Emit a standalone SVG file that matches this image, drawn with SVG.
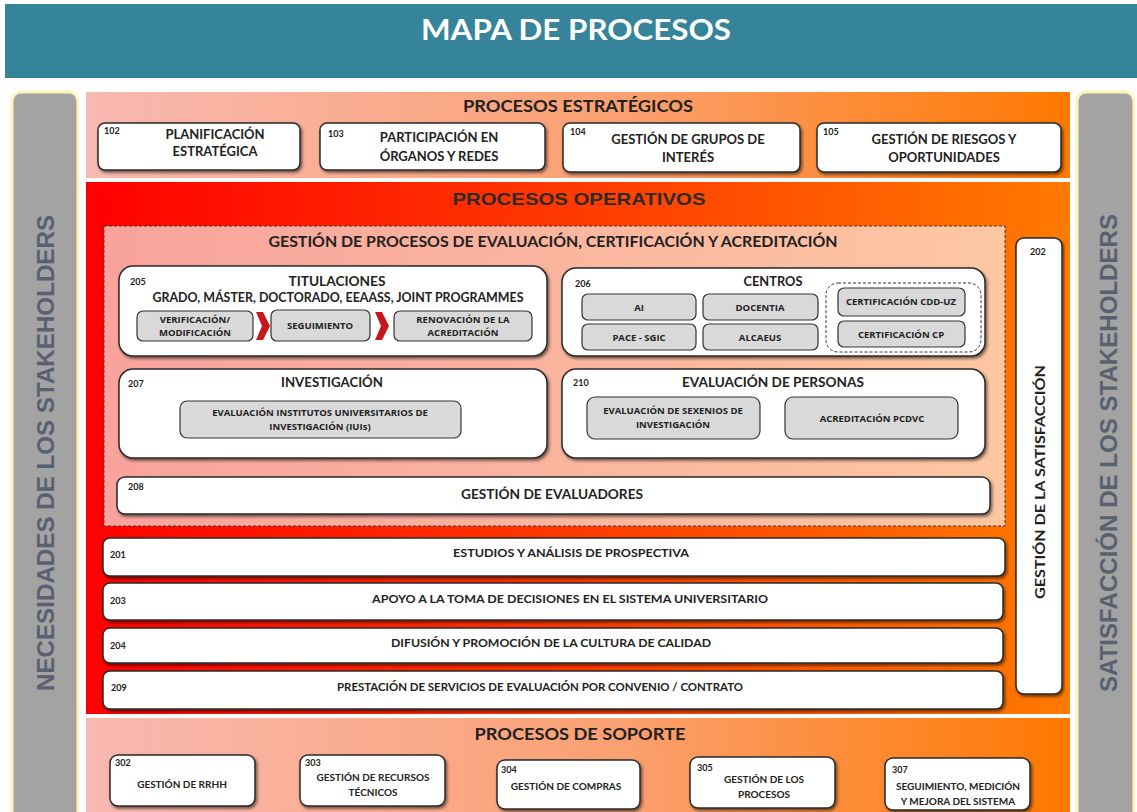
<svg xmlns="http://www.w3.org/2000/svg" width="1137" height="812" viewBox="0 0 1137 812">
<defs>
<linearGradient id="gStr" x1="0" y1="0" x2="1" y2="0"><stop offset="0" stop-color="#f8b9b2"/><stop offset="0.55" stop-color="#fba070"/><stop offset="1" stop-color="#ff7800"/></linearGradient>
<linearGradient id="gOp" x1="0" y1="0" x2="1" y2="0"><stop offset="0" stop-color="#ff0000"/><stop offset="0.5" stop-color="#ff3a00"/><stop offset="1" stop-color="#ff7a00"/></linearGradient>
<linearGradient id="gIn" x1="0" y1="0" x2="1" y2="0"><stop offset="0" stop-color="#f8a39c"/><stop offset="1" stop-color="#fdc7a2"/></linearGradient>
<filter id="sh" x="-5%" y="-20%" width="110%" height="150%"><feDropShadow dx="1.5" dy="2" stdDeviation="1.5" flood-color="#000" flood-opacity="0.55"/></filter>
</defs>
<style>
text{font-family:Lato,"Liberation Sans",sans-serif;font-weight:bold;fill:#222}
.wb{fill:#fff;stroke:#2a2a2a;stroke-width:1.5;filter:url(#sh)}
.gb{fill:#d9d9d9;stroke:#333;stroke-width:1.2}
.num{font-size:9px}
.st{font-size:13px;text-anchor:middle}
.sm{font-size:9.5px;text-anchor:middle;font-family:"Open Sans","Liberation Sans",sans-serif}
.ttl{font-size:15px;text-anchor:middle}
.row{font-size:11.5px;text-anchor:middle}
.sp{font-size:10px;text-anchor:middle}
.side{font-family:"Liberation Sans",Arial,sans-serif;font-size:24px;font-weight:bold;fill:#59606f;text-anchor:middle}
</style>
<rect x="0" y="0" width="1137" height="812" fill="#fff"/>
<g id="header">
<rect x="5" y="4" width="1132" height="74" fill="#35849a"/>
<text x="576" y="40" text-anchor="middle" font-size="28" style="fill:#fff" textLength="310" lengthAdjust="spacingAndGlyphs">MAPA DE PROCESOS</text>
</g>
<g id="left-bar">
<rect x="12" y="92" width="66" height="730" rx="9" fill="#a3a3a3" stroke="#fbf6b8" stroke-width="3"/>
<text class="side" transform="translate(54,453) rotate(-90)" textLength="476" lengthAdjust="spacingAndGlyphs">NECESIDADES DE LOS STAKEHOLDERS</text>
</g>
<g id="right-bar">
<rect x="1077" y="92" width="57" height="730" rx="9" fill="#a3a3a3" stroke="#fbf6b8" stroke-width="3"/>
<text class="side" transform="translate(1117,453) rotate(-90)" textLength="478" lengthAdjust="spacingAndGlyphs">SATISFACCIÓN DE LOS STAKEHOLDERS</text>
</g>
<g id="estrategicos">
<rect x="86" y="92" width="984" height="86" fill="url(#gStr)"/>
<text x="578" y="112" class="ttl" textLength="230" lengthAdjust="spacingAndGlyphs" style="font-size:17px">PROCESOS ESTRATÉGICOS</text>
</g>
<g id="n102"><rect class="wb" x="98" y="123" width="202" height="47" rx="7"/><text x="104" y="134" class="num">102</text><text x="215" y="139" class="st">PLANIFICACIÓN</text><text x="215" y="156" class="st">ESTRATÉGICA</text></g>
<g id="n103"><rect class="wb" x="320" y="123" width="225" height="47" rx="7"/><text x="328" y="137" class="num">103</text><text x="439" y="142" class="st">PARTICIPACIÓN EN</text><text x="439" y="161" class="st">ÓRGANOS Y REDES</text></g>
<g id="n104"><rect class="wb" x="563" y="123" width="237" height="49" rx="7"/><text x="570" y="135" class="num">104</text><text x="688" y="144" class="st">GESTIÓN DE GRUPOS DE</text><text x="688" y="162" class="st">INTERÉS</text></g>
<g id="n105"><rect class="wb" x="817" y="123" width="244" height="49" rx="7"/><text x="823" y="135" class="num">105</text><text x="944" y="144" class="st">GESTIÓN DE RIESGOS Y</text><text x="944" y="162" class="st">OPORTUNIDADES</text></g>
<g id="operativos">
<rect x="86" y="182" width="984" height="532" fill="url(#gOp)"/>
<text x="579" y="205" text-anchor="middle" style="font-family:'Liberation Sans',Arial,sans-serif;font-size:17px;fill:#2b2b2b" textLength="253" lengthAdjust="spacingAndGlyphs">PROCESOS OPERATIVOS</text>
</g>
<g id="gestion-evaluacion">
<rect x="104" y="226" width="901" height="300" fill="url(#gIn)" stroke="#3a3a3a" stroke-width="1" stroke-dasharray="3,2"/>
<text x="553" y="247" class="ttl" textLength="569" lengthAdjust="spacingAndGlyphs">GESTIÓN DE PROCESOS DE EVALUACIÓN, CERTIFICACIÓN Y ACREDITACIÓN</text>
</g>
<g id="n205">
<rect class="wb" x="119" y="266" width="428" height="90" rx="14"/>
<text x="130" y="285" class="num">205</text>
<text x="337" y="286" class="ttl" style="font-size:13.5px" textLength="97" lengthAdjust="spacingAndGlyphs">TITULACIONES</text>
<text x="338" y="302" class="ttl" style="font-size:13.5px" textLength="371" lengthAdjust="spacingAndGlyphs">GRADO, MÁSTER, DOCTORADO, EEAASS, JOINT PROGRAMMES</text>
<rect class="gb" x="137" y="311" width="116" height="30" rx="6"/><text x="195" y="323" class="sm">VERIFICACIÓN/</text><text x="195" y="336" class="sm">MODIFICACIÓN</text>
<path d="M256,312 L263,312 L270,326 L263,340 L256,340 L262,326 Z" fill="#c8161d"/>
<rect class="gb" x="271" y="310" width="99" height="31" rx="6"/><text x="320" y="329" class="sm">SEGUIMIENTO</text>
<path d="M375,312 L382,312 L389,326 L382,340 L375,340 L381,326 Z" fill="#c8161d"/>
<rect class="gb" x="394" y="311" width="138" height="30" rx="6"/><text x="463" y="323" class="sm">RENOVACIÓN DE LA</text><text x="463" y="336" class="sm">ACREDITACIÓN</text>
</g>
<g id="n206">
<rect class="wb" x="562" y="268" width="423" height="88" rx="14"/>
<text x="575" y="287" class="num">206</text>
<text x="773" y="286" class="ttl" style="font-size:13.5px" textLength="59" lengthAdjust="spacingAndGlyphs">CENTROS</text>
<rect class="gb" x="582" y="294" width="114" height="26" rx="6"/><text x="639" y="311" class="sm">AI</text>
<rect class="gb" x="703" y="294" width="115" height="26" rx="6"/><text x="760" y="311" class="sm">DOCENTIA</text>
<rect class="gb" x="582" y="324" width="114" height="26" rx="6"/><text x="639" y="341" class="sm">PACE - SGIC</text>
<rect class="gb" x="703" y="324" width="115" height="26" rx="6"/><text x="760" y="341" class="sm">ALCAEUS</text>
<rect x="826" y="283" width="155" height="69" rx="12" fill="#fff" stroke="#333" stroke-width="1" stroke-dasharray="3,2"/>
<rect class="gb" x="838" y="288" width="127" height="28" rx="6"/><text x="901" y="305" class="sm">CERTIFICACIÓN CDD-UZ</text>
<rect class="gb" x="838" y="321" width="127" height="26" rx="6"/><text x="901" y="338" class="sm">CERTIFICACIÓN CP</text>
</g>
<g id="n207">
<rect class="wb" x="119" y="369" width="428" height="89" rx="14"/>
<text x="128" y="387" class="num">207</text>
<text x="332" y="387" class="ttl" style="font-size:13.5px" textLength="102" lengthAdjust="spacingAndGlyphs">INVESTIGACIÓN</text>
<rect class="gb" x="180" y="401" width="281" height="37" rx="7"/><text x="320" y="416" class="sm">EVALUACIÓN INSTITUTOS UNIVERSITARIOS DE</text><text x="320" y="430" class="sm">INVESTIGACIÓN (IUIs)</text>
</g>
<g id="n210">
<rect class="wb" x="562" y="369" width="423" height="89" rx="14"/>
<text x="573" y="386" class="num">210</text>
<text x="773" y="387" class="ttl" style="font-size:13.5px" textLength="182" lengthAdjust="spacingAndGlyphs">EVALUACIÓN DE PERSONAS</text>
<rect class="gb" x="587" y="397" width="173" height="42" rx="8"/><text x="673" y="414" class="sm">EVALUACIÓN DE SEXENIOS DE</text><text x="673" y="428" class="sm">INVESTIGACIÓN</text>
<rect class="gb" x="785" y="397" width="173" height="42" rx="8"/><text x="872" y="422" class="sm">ACREDITACIÓN PCDVC</text>
</g>
<g id="n208">
<rect class="wb" x="117" y="477" width="873" height="37" rx="8"/>
<text x="128" y="490" class="num">208</text>
<text x="552" y="499" class="ttl" style="font-size:13.5px" textLength="182" lengthAdjust="spacingAndGlyphs">GESTIÓN DE EVALUADORES</text>
</g>
<g id="n202">
<rect class="wb" x="1016" y="238" width="46" height="456" rx="8"/>
<text x="1030" y="255" class="num">202</text>
<text class="ttl" transform="translate(1045,482) rotate(-90)" style="font-size:14px" textLength="234" lengthAdjust="spacingAndGlyphs">GESTIÓN DE LA SATISFACCIÓN</text>
</g>
<g id="n201"><rect class="wb" x="103" y="538" width="902" height="38" rx="7"/><text x="110" y="558" class="num">201</text><text x="571" y="557" class="row" textLength="236" lengthAdjust="spacingAndGlyphs">ESTUDIOS Y ANÁLISIS DE PROSPECTIVA</text></g>
<g id="n203"><rect class="wb" x="103" y="583" width="900" height="37" rx="7"/><text x="110" y="604" class="num">203</text><text x="570" y="603" class="row" textLength="396" lengthAdjust="spacingAndGlyphs">APOYO A LA TOMA DE DECISIONES EN EL SISTEMA UNIVERSITARIO</text></g>
<g id="n204"><rect class="wb" x="103" y="628" width="900" height="35" rx="7"/><text x="110" y="649" class="num">204</text><text x="551" y="647" class="row" textLength="320" lengthAdjust="spacingAndGlyphs">DIFUSIÓN Y PROMOCIÓN DE LA CULTURA DE CALIDAD</text></g>
<g id="n209"><rect class="wb" x="103" y="671" width="900" height="38" rx="7"/><text x="111" y="691" class="num">209</text><text x="540" y="691" class="row" textLength="406" lengthAdjust="spacingAndGlyphs">PRESTACIÓN DE SERVICIOS DE EVALUACIÓN POR CONVENIO / CONTRATO</text></g>
<g id="soporte">
<rect x="86" y="718" width="984" height="94" fill="url(#gStr)"/>
<text x="580" y="740" class="ttl" style="font-size:17px" textLength="211" lengthAdjust="spacingAndGlyphs">PROCESOS DE SOPORTE</text>
</g>
<g id="n302"><rect class="wb" x="110" y="755" width="145" height="51" rx="8"/><text x="115" y="766" class="num">302</text><text x="182" y="788" class="sp">GESTIÓN DE RRHH</text></g>
<g id="n303"><rect class="wb" x="300" y="755" width="145" height="51" rx="8"/><text x="305" y="766" class="num">303</text><text x="373" y="781" class="sp">GESTIÓN DE RECURSOS</text><text x="373" y="796" class="sp">TÉCNICOS</text></g>
<g id="n304"><rect class="wb" x="497" y="760" width="143" height="49" rx="8"/><text x="501" y="773" class="num">304</text><text x="566" y="790" class="sp">GESTIÓN DE COMPRAS</text></g>
<g id="n305"><rect class="wb" x="690" y="757" width="145" height="51" rx="8"/><text x="697" y="771" class="num">305</text><text x="764" y="783" class="sp">GESTIÓN DE LOS</text><text x="764" y="798" class="sp">PROCESOS</text></g>
<g id="n307"><rect class="wb" x="885" y="758" width="145" height="52" rx="8"/><text x="892" y="773" class="num">307</text><text x="958" y="790" class="sp">SEGUIMIENTO, MEDICIÓN</text><text x="958" y="805" class="sp">Y MEJORA DEL SISTEMA</text></g>
<g id="connectors"></g>
</svg>
